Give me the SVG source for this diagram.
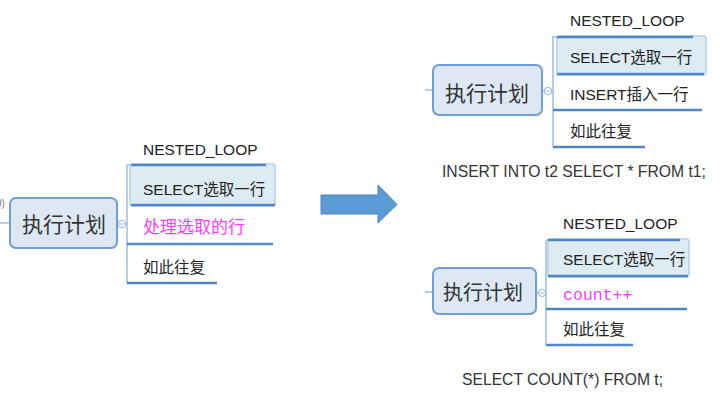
<svg xmlns="http://www.w3.org/2000/svg" width="720" height="402" viewBox="0 0 720 402">
<style>
text{font-family:"Liberation Sans","Noto Sans CJK SC",sans-serif;fill:#222;}
.root{fill:#dde8f4;stroke:#6e9fd6;stroke-width:2;}
.rt{font-size:21px;fill:#333;}
.sel{fill:#deebf2;stroke:#c3d8ea;stroke-width:2;}
.bt{font-size:15.5px;}
.mag{fill:#ff3cff;}
.ul{stroke:#4f87cc;stroke-width:2.5;fill:none;}
.br{stroke:#9dbde2;stroke-width:1.5;fill:none;}
.col{fill:#fff;stroke:#9dbde2;stroke-width:1.2;}
.sql{font-size:15.7px;fill:#333;}
</style>
<rect width="720" height="402" fill="#fff"/>
<text x="-4" y="207" style="font-size:10px;fill:#777">0)</text>

<g id="connectors">
  <path class="br" d="M0 223H10 M117 223H119 M125 224H127 M127 165V283 M127 165H131 M127 244H131 M127 283H131"/>
  <path class="br" d="M425 90H433 M542 91H545 M551 91H553 M553 36V147 M553 37H557 M553 110H557 M553 147H557"/>
  <path class="br" d="M425 292H433 M536 293H539 M545 293H546 M546 240V345 M546 240H548 M546 309H548 M546 345H548"/>
</g>

<g id="left-plan">
  <rect class="root" x="10" y="198" width="107" height="50" rx="6"/>
  <text class="rt" x="22" y="232">执行计划</text>
  <circle class="col" cx="122" cy="224" r="3.5"/>
  <path d="M120 224H124" stroke="#9dbde2" stroke-width="1"/>
  <text class="bt" x="143" y="155">NESTED_LOOP</text>
  <rect class="sel" x="130" y="164" width="145" height="42" rx="3"/>
  <path class="ul" d="M131 165H266 M131 205H275"/>
  <text class="bt" x="143" y="195">SELECT选取一行</text>
  <text class="mag" x="143" y="233" style="font-size:17px">处理选取的行</text>
  <path class="ul" d="M127 244H273"/>
  <text class="bt" x="143" y="273">如此往复</text>
  <path class="ul" d="M127 283H217"/>
</g>

<g id="arrow">
  <path d="M321 195H378V185L397 204.5L378 223V214H321Z" fill="#5b9bd5" stroke="#4a86c0" stroke-width="1"/>
</g>

<g id="insert-plan">
  <rect class="root" x="433" y="65" width="109" height="50" rx="6"/>
  <text class="rt" x="445" y="101">执行计划</text>
  <circle class="col" cx="548" cy="91" r="3.5"/>
  <path d="M546 91H550" stroke="#9dbde2" stroke-width="1"/>
  <text class="bt" x="570" y="26">NESTED_LOOP</text>
  <rect class="sel" x="557" y="36" width="149" height="39" rx="3"/>
  <path class="ul" d="M557 37H693 M557 74H704"/>
  <text class="bt" x="570" y="63">SELECT选取一行</text>
  <text class="bt" x="570" y="100">INSERT插入一行</text>
  <path class="ul" d="M553 110H702"/>
  <text class="bt" x="570" y="137">如此往复</text>
  <path class="ul" d="M553 147H645"/>
  <text class="sql" x="442" y="177">INSERT INTO t2 SELECT * FROM t1;</text>
</g>

<g id="count-plan">
  <rect class="root" x="433" y="268" width="103" height="46" rx="6"/>
  <text class="rt" x="443" y="300" style="font-size:20px">执行计划</text>
  <circle class="col" cx="542" cy="293" r="3.5"/>
  <path d="M540 293H544" stroke="#9dbde2" stroke-width="1"/>
  <text class="bt" x="563" y="229">NESTED_LOOP</text>
  <rect class="sel" x="548" y="239" width="141" height="38" rx="3"/>
  <path class="ul" d="M548 240H680 M548 276H688"/>
  <text class="bt" x="563" y="265">SELECT选取一行</text>
  <text class="mag" x="563" y="300" style="font-family:'Liberation Mono',monospace;font-size:16.5px">count++</text>
  <path class="ul" d="M546 309H687"/>
  <text class="bt" x="563" y="335">如此往复</text>
  <path class="ul" d="M546 345H633"/>
  <text class="sql" x="462" y="385">SELECT COUNT(*) FROM t;</text>
</g>
</svg>
